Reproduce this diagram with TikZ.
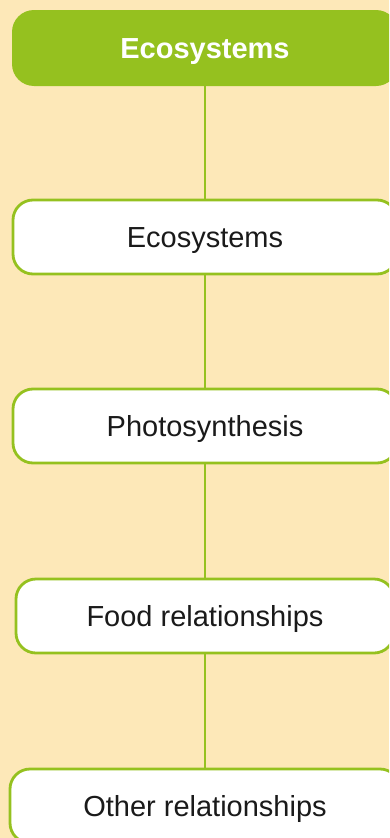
\documentclass[tikz,border=0pt]{standalone}
\usepackage{fontspec}
\setmainfont{Liberation Sans}
\definecolor{bg}{HTML}{FDE8B8}
\definecolor{leaf}{HTML}{95C11F}
\definecolor{ink}{HTML}{1A1A1A}
\begin{document}
\begin{tikzpicture}[x=1pt,y=-1pt,
  topic/.style={draw=leaf, line width=2.8pt, fill=white, rounded corners=20pt,
    minimum height=74pt, inner sep=0pt, text=ink, text height=20.8pt, text depth=0pt,
    font=\fontsize{29}{34}\selectfont},
  head/.style={fill=leaf, rounded corners=22pt, minimum width=386pt,
    minimum height=76pt, inner sep=0pt, text=white, text height=20.8pt, text depth=0pt,
    font=\bfseries\fontsize{29}{34}\selectfont},
  link/.style={draw=leaf, line width=2.6pt}]
\useasboundingbox (0,0) rectangle (389,838);
\clip (0,0) rectangle (389,838);
\fill[bg] (0,0) rectangle (389,838);
\node[head] (h) at (205,48) {Ecosystems};
\node[topic, minimum width=384pt] (a) at (205,237) {Ecosystems};
\node[topic, minimum width=384pt] (b) at (205,426) {Photosynthesis};
\node[topic, minimum width=378pt] (c) at (205,616) {Food relationships};
\node[topic, minimum width=390pt] (d) at (205,806) {Other relationships};
\draw[link] (h.south) -- (a.north);
\draw[link] (a.south) -- (b.north);
\draw[link] (b.south) -- (c.north);
\draw[link] (c.south) -- (d.north);
\end{tikzpicture}
\end{document}
